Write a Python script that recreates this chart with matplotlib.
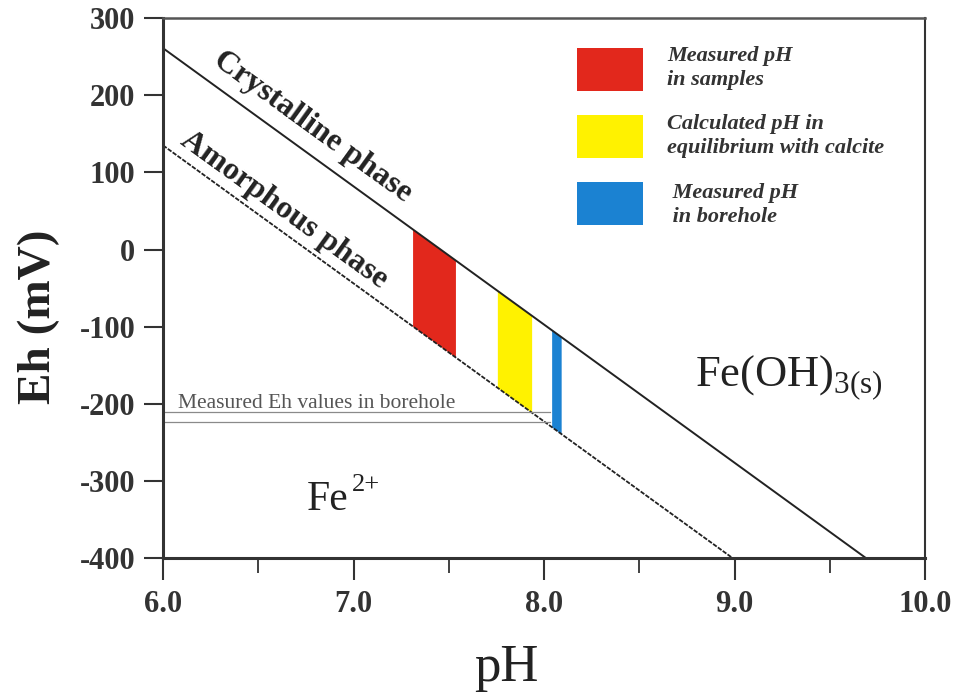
import matplotlib
matplotlib.use("Agg")
import matplotlib.pyplot as plt
import numpy as np
from matplotlib.patches import Rectangle
from matplotlib.ticker import MultipleLocator

plt.rcParams["font.family"] = ["Liberation Serif", "DejaVu Serif"]
plt.rcParams["axes.unicode_minus"] = False

# phase boundaries (pH, Eh in mV)
crystalline_ph = [6.0, 9.69]
crystalline_eh = [261, -400]
amorphous_ph = [6.0, 8.99]
amorphous_eh = [135, -400]

# pH ranges shown as bands between the two boundaries
band_names = ["Measured pH\nin samples",
              "Calculated pH in\nequilibrium with calcite",
              " Measured pH\n in borehole"]
band_ph = [(7.31, 7.535), (7.755, 7.935), (8.04, 8.09)]
band_colors = ["#e2281c", "#fff200", "#1b82d2"]

# measured Eh in the borehole
borehole_eh = [-210, -223]
borehole_ph_max = 8.03

x_ticks = [6.0, 7.0, 8.0, 9.0, 10.0]
y_ticks = [-400, -300, -200, -100, 0, 100, 200, 300]


def eh_on(line_ph, line_eh, ph):
    return np.interp(ph, line_ph, line_eh)


fig = plt.figure(figsize=(9.68, 6.95), dpi=100)
ax = fig.add_axes([0.1684, 0.197, 0.7872, 0.777])
ax.set_xlim(6.0, 10.0)
ax.set_ylim(-400, 300)

ax.plot(crystalline_ph, crystalline_eh, color="#222222", lw=1.4)
ax.plot(amorphous_ph, amorphous_eh, color="#222222", lw=1.3,
        linestyle=(0, (2.5, 0.8)))

for (lo, hi), c in zip(band_ph, band_colors):
    xs = np.linspace(lo, hi, 20)
    ax.fill_between(xs, eh_on(amorphous_ph, amorphous_eh, xs),
                    eh_on(crystalline_ph, crystalline_eh, xs),
                    color=c, lw=0, zorder=1)

for y in borehole_eh:
    ax.plot([6.0, borehole_ph_max], [y, y], color="#8a8a8a", lw=0.9)
ax.text(6.08, borehole_eh[0] + 5, "Measured Eh values in borehole",
        fontsize=15.5, color="#555555", va="baseline", ha="left")

# labels along the boundaries
ax.text(6.787, 159, "Crystalline phase", fontsize=23, fontweight="bold",
        ha="center", va="center", rotation=-35.9, rotation_mode="anchor",
        color="#222222")
ax.text(6.635, 51, "Amorphous phase", fontsize=23, fontweight="bold",
        ha="center", va="center", rotation=-35.9, rotation_mode="anchor",
        color="#222222")

ax.text(8.79, -177, r"Fe(OH)$_{\mathregular{3(s)}}$", fontsize=32,
        ha="left", va="baseline", color="#222222")
ax.text(6.756, -338, "Fe", fontsize=30, ha="left", va="baseline",
        color="#222222")
ax.annotate("2+", xy=(6.756, -338), xytext=(32, 14),
            textcoords="offset points", fontsize=19, ha="left",
            va="baseline", color="#222222")

# legend boxes
legend_top = [261, 174, 87]
legend_mid = [235, 147, 58]
for name, c, top, mid in zip(band_names, band_colors, legend_top,
                             legend_mid):
    ax.add_patch(Rectangle((8.173, top - 55), 0.347, 55, color=c, lw=0))
    ax.text(8.646, mid, name, fontsize=16, fontstyle="italic",
            fontweight="bold", ha="left", va="center", color="#333333",
            linespacing=1.25)

ax.xaxis.set_minor_locator(MultipleLocator(0.5))
ax.set_xticks(x_ticks)
ax.set_xticklabels([f"{v:.1f}" for v in x_ticks])
ax.set_yticks(y_ticks)
ax.set_yticklabels([str(v) for v in y_ticks])
ax.tick_params(axis="both", which="major", direction="out",
               width=1.5, labelsize=22, colors="#333333")
ax.tick_params(axis="x", which="major", length=16, pad=7)
ax.tick_params(axis="y", which="major", length=14, pad=6)
ax.tick_params(axis="x", which="minor", direction="out", length=11,
               width=1.3, colors="#333333")
for lbl in ax.get_xticklabels() + ax.get_yticklabels():
    lbl.set_fontweight("bold")

for side in ["left", "bottom"]:
    ax.spines[side].set_linewidth(2.2)
    ax.spines[side].set_color("#333333")
ax.spines["top"].set_linewidth(1.8)
ax.spines["top"].set_color("#555555")
ax.spines["right"].set_linewidth(1.5)
ax.spines["right"].set_color("#333333")

ax.set_xlabel("pH", fontsize=38, color="#222222")
ax.xaxis.set_label_coords(0.450, -0.159)
ax.set_ylabel("Eh (mV)", fontsize=34, fontweight="bold", color="#222222")
ax.yaxis.label.set_va("center")
ax.yaxis.set_label_coords(-0.163, 0.446)

fig.savefig("out.png", dpi=100)
